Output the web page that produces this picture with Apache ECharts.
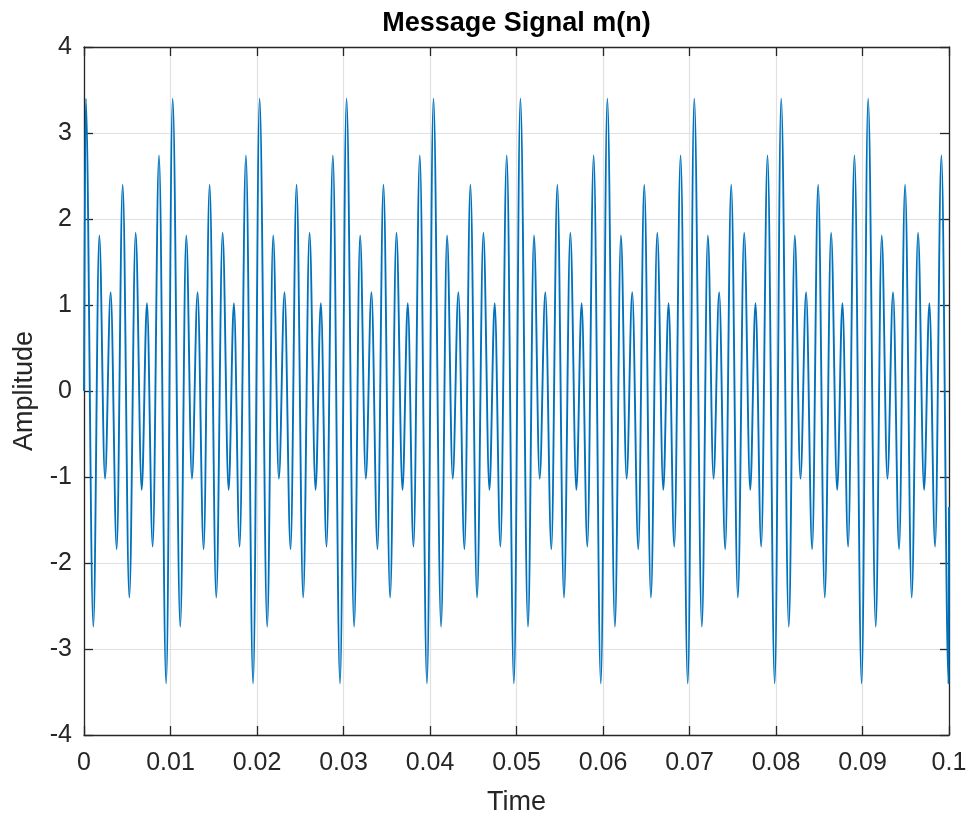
<!DOCTYPE html>
<html>
<head>
<meta charset="utf-8">
<script src="https://cdn.jsdelivr.net/npm/echarts@6/dist/echarts.min.js"></script>
<style>
html, body { margin: 0; padding: 0; background: #ffffff; }
#chart { width: 972px; height: 821px; }
</style>
</head>
<body>
<div id="chart"></div>
<script>
// ---- text ----
const titleText = 'Message Signal m(n)';
const xAxisName = 'Time';
const yAxisName = 'Amplitude';

// ---- tick labels ----
const xTickLabels = ['0', '0.01', '0.02', '0.03', '0.04', '0.05', '0.06', '0.07', '0.08', '0.09', '0.1'];
const yTickLabels = ['-4', '-3', '-2', '-1', '0', '1', '2', '3', '4'];

const timeSec = [
  0,
  0.00020, 0.00108, 0.00177, 0.00243, 0.00308, 0.00378, 0.00447, 0.00524, 0.00597, 0.00667, 0.00728, 0.00794, 0.00867, 0.00950,
  0.01025, 0.01113, 0.01182, 0.01248, 0.01313, 0.01383, 0.01452, 0.01529, 0.01602, 0.01672, 0.01733, 0.01799, 0.01872, 0.01955,
  0.02030, 0.02118, 0.02187, 0.02253, 0.02318, 0.02388, 0.02457, 0.02534, 0.02607, 0.02677, 0.02738, 0.02804, 0.02877, 0.02960,
  0.03035, 0.03123, 0.03192, 0.03258, 0.03323, 0.03393, 0.03462, 0.03539, 0.03612, 0.03682, 0.03743, 0.03809, 0.03882, 0.03965,
  0.04040, 0.04128, 0.04197, 0.04263, 0.04328, 0.04398, 0.04467, 0.04544, 0.04617, 0.04687, 0.04748, 0.04814, 0.04887, 0.04970,
  0.05045, 0.05133, 0.05202, 0.05268, 0.05333, 0.05403, 0.05472, 0.05549, 0.05622, 0.05692, 0.05753, 0.05819, 0.05892, 0.05975,
  0.06050, 0.06138, 0.06207, 0.06273, 0.06338, 0.06408, 0.06477, 0.06554, 0.06627, 0.06697, 0.06758, 0.06824, 0.06897, 0.06980,
  0.07055, 0.07143, 0.07212, 0.07278, 0.07343, 0.07413, 0.07482, 0.07559, 0.07632, 0.07702, 0.07763, 0.07829, 0.07902, 0.07985,
  0.08060, 0.08148, 0.08217, 0.08283, 0.08348, 0.08418, 0.08487, 0.08564, 0.08637, 0.08707, 0.08768, 0.08834, 0.08907, 0.08990,
  0.09065, 0.09153, 0.09222, 0.09288, 0.09353, 0.09423, 0.09492, 0.09569, 0.09642, 0.09712, 0.09773, 0.09839, 0.09912, 0.09995,
  0.1
];
const amplitude = [
  0,
  3.40, -2.74, 1.81, -1.02, 1.15, -1.84, 2.40, -2.40, 1.84, -1.15, 1.02, -1.81, 2.74, -3.40,
  3.40, -2.74, 1.81, -1.02, 1.15, -1.84, 2.40, -2.40, 1.84, -1.15, 1.02, -1.81, 2.74, -3.40,
  3.40, -2.74, 1.81, -1.02, 1.15, -1.84, 2.40, -2.40, 1.84, -1.15, 1.02, -1.81, 2.74, -3.40,
  3.40, -2.74, 1.81, -1.02, 1.15, -1.84, 2.40, -2.40, 1.84, -1.15, 1.02, -1.81, 2.74, -3.40,
  3.40, -2.74, 1.81, -1.02, 1.15, -1.84, 2.40, -2.40, 1.84, -1.15, 1.02, -1.81, 2.74, -3.40,
  3.40, -2.74, 1.81, -1.02, 1.15, -1.84, 2.40, -2.40, 1.84, -1.15, 1.02, -1.81, 2.74, -3.40,
  3.40, -2.74, 1.81, -1.02, 1.15, -1.84, 2.40, -2.40, 1.84, -1.15, 1.02, -1.81, 2.74, -3.40,
  3.40, -2.74, 1.81, -1.02, 1.15, -1.84, 2.40, -2.40, 1.84, -1.15, 1.02, -1.81, 2.74, -3.40,
  3.40, -2.74, 1.81, -1.02, 1.15, -1.84, 2.40, -2.40, 1.84, -1.15, 1.02, -1.81, 2.74, -3.40,
  3.40, -2.74, 1.81, -1.02, 1.15, -1.84, 2.40, -2.40, 1.84, -1.15, 1.02, -1.81, 2.74, -3.40,
  -1.35
];

// ---- build ----
const seriesData = timeSec.map((t, i) => [t, amplitude[i]]);
const FONT = '"Liberation Sans", Arial, Helvetica, sans-serif';
const INK = '#262626';
const GRIDC = '#e1e1e1';

const GRID_LEFT = 84, GRID_TOP = 47, GRID_W = 865, GRID_H = 690;
const TITLE_SIZE = 27;

const xMin = 0, xMax = 0.1, xStep = 0.01;
const yMin = -4, yMax = 4, yStep = 1;

function xLabel(v) {
  const i = Math.round((v - xMin) / xStep);
  return xTickLabels[i] !== undefined ? xTickLabels[i] : '';
}
function yLabel(v) {
  const i = Math.round((v - yMin) / yStep);
  return yTickLabels[i] !== undefined ? yTickLabels[i] : '';
}

// centre the title over the plot area (as MATLAB does), not over the whole canvas
const measureCtx = document.createElement('canvas').getContext('2d');
measureCtx.font = 'bold ' + TITLE_SIZE + 'px ' + FONT;
const titleWidth = measureCtx.measureText(titleText).width;
const titleLeft = GRID_LEFT + GRID_W / 2 - titleWidth / 2;

const baseAxisLine = { show: true, onZero: false, lineStyle: { color: INK, width: 1.3 } };
const baseTick = { show: true, inside: true, length: 9, lineStyle: { color: INK, width: 1.3 } };

const chart = echarts.init(document.getElementById('chart'), null, { renderer: 'canvas' });
chart.setOption({
  backgroundColor: '#ffffff',
  animation: false,
  title: {
    text: titleText,
    left: titleLeft,
    top: 10,
    padding: 0,
    textStyle: { fontFamily: FONT, fontSize: TITLE_SIZE, fontWeight: 'bold', color: '#000000' }
  },
  grid: { left: GRID_LEFT, top: GRID_TOP, width: GRID_W, height: GRID_H, containLabel: false },
  xAxis: [
    {
      type: 'value', position: 'bottom', min: xMin, max: xMax, interval: xStep,
      name: xAxisName, nameLocation: 'middle', nameGap: 54,
      nameTextStyle: { fontFamily: FONT, fontSize: 27, color: INK },
      axisLine: baseAxisLine, axisTick: baseTick,
      axisLabel: { show: true, margin: 16, fontFamily: FONT, fontSize: 25, color: INK, formatter: xLabel, showMinLabel: true, showMaxLabel: true },
      splitLine: { show: true, lineStyle: { color: GRIDC, width: 1.2 } }
    },
    {
      type: 'value', position: 'top', min: xMin, max: xMax, interval: xStep,
      axisLine: baseAxisLine, axisTick: baseTick,
      axisLabel: { show: false }, splitLine: { show: false }
    }
  ],
  yAxis: [
    {
      type: 'value', position: 'left', min: yMin, max: yMax, interval: yStep,
      name: yAxisName, nameLocation: 'middle', nameGap: 46,
      nameTextStyle: { fontFamily: FONT, fontSize: 27, color: INK },
      axisLine: baseAxisLine, axisTick: baseTick,
      axisLabel: { show: true, margin: 12, fontFamily: FONT, fontSize: 25, color: INK, formatter: yLabel, showMinLabel: true, showMaxLabel: true },
      splitLine: { show: true, lineStyle: { color: GRIDC, width: 1.2 } }
    },
    {
      type: 'value', position: 'right', min: yMin, max: yMax, interval: yStep,
      axisLine: baseAxisLine, axisTick: baseTick,
      axisLabel: { show: false }, splitLine: { show: false }
    }
  ],
  series: [
    {
      type: 'line',
      xAxisIndex: 0, yAxisIndex: 0,
      data: seriesData,
      showSymbol: false, symbol: 'none',
      smooth: 0.35, smoothMonotone: 'x',
      clip: true,
      lineStyle: { color: '#0072BD', width: 1.9 },
      z: 3
    }
  ]
});
</script>
</body>
</html>
